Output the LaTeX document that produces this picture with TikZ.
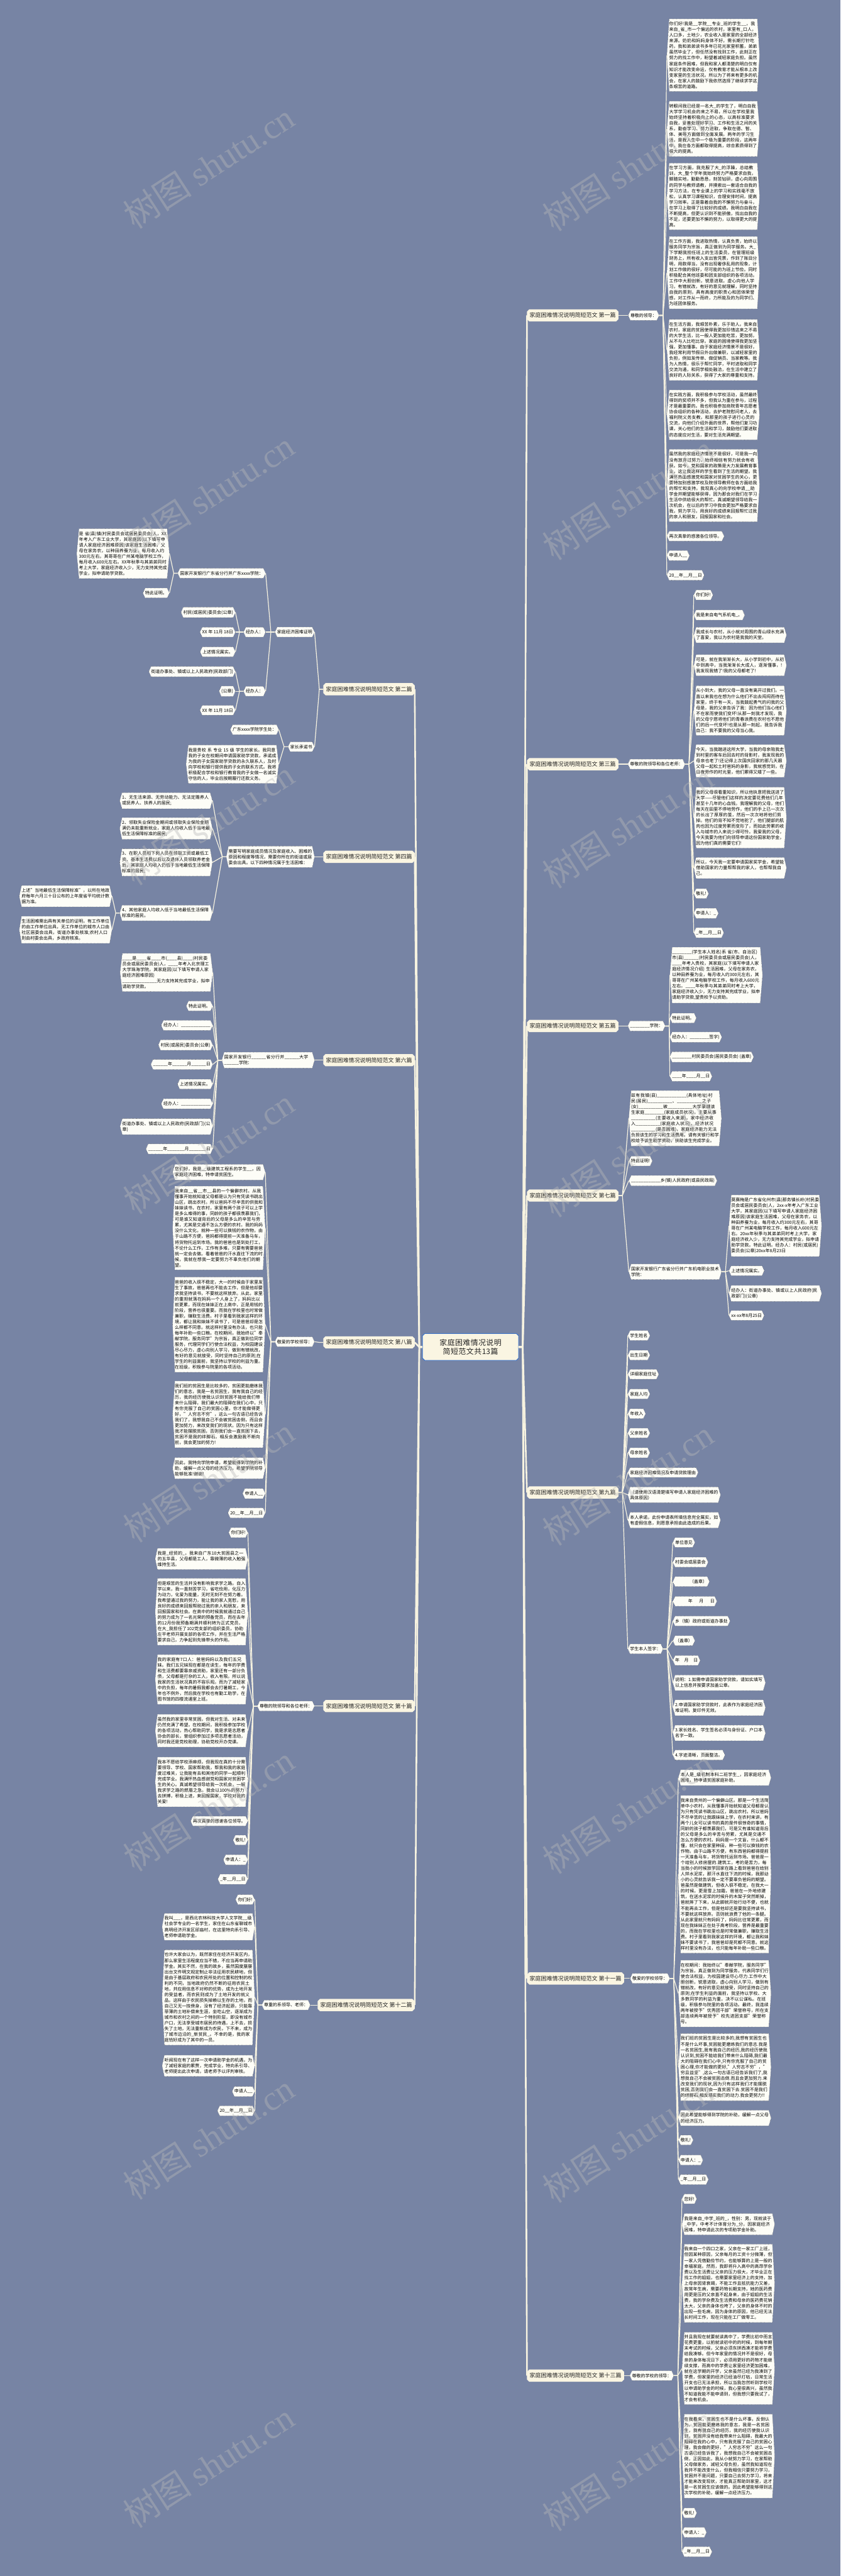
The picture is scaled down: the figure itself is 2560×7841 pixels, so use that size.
\documentclass[tikz,border=0pt]{standalone}
\usepackage{fontspec}
\setmainfont{Noto Sans CJK SC}
\newfontfamily\wmc{Noto Sans CJK SC}
\newfontfamily\wml{Liberation Serif}
\XeTeXlinebreaklocale "zh"
\XeTeXlinebreakskip=0pt plus 0.3pt
\definecolor{bgc}{RGB}{119,132,164}
\definecolor{leafc}{RGB}{253,253,247}
\definecolor{ttlc}{RGB}{250,245,226}
\definecolor{bordc}{RGB}{70,70,70}
\definecolor{ctrb}{RGB}{66,118,200}
\definecolor{linec}{RGB}{246,242,224}
\definecolor{wmcol}{RGB}{185,185,185}
\makeatletter
\pgfdeclareshape{hexa}{%
  \inheritsavedanchors[from=rectangle]%
  \inheritanchorborder[from=rectangle]%
  \inheritanchor[from=rectangle]{center}%
  \inheritanchor[from=rectangle]{north}%
  \inheritanchor[from=rectangle]{south}%
  \inheritanchor[from=rectangle]{east}%
  \inheritanchor[from=rectangle]{west}%
  \inheritanchor[from=rectangle]{north east}%
  \inheritanchor[from=rectangle]{north west}%
  \inheritanchor[from=rectangle]{south east}%
  \inheritanchor[from=rectangle]{south west}%
  \inheritanchor[from=rectangle]{base}%
  \inheritanchor[from=rectangle]{mid}%
  \backgroundpath{%
    \southwest \edef\hxa{\the\pgf@x}\edef\hya{\the\pgf@y}%
    \northeast \edef\hxb{\the\pgf@x}\edef\hyb{\the\pgf@y}%
    \pgfpathmoveto{\pgfqpoint{\hxa}{\dimexpr(\hya+\hyb)/2\relax}}%
    \pgfpathlineto{\pgfqpoint{\dimexpr\hxa+2pt\relax}{\hyb}}%
    \pgfpathlineto{\pgfqpoint{\dimexpr\hxb-2pt\relax}{\hyb}}%
    \pgfpathlineto{\pgfqpoint{\hxb}{\dimexpr(\hya+\hyb)/2\relax}}%
    \pgfpathlineto{\pgfqpoint{\dimexpr\hxb-2pt\relax}{\hya}}%
    \pgfpathlineto{\pgfqpoint{\dimexpr\hxa+2pt\relax}{\hya}}%
    \pgfpathclose
  }%
}
\pgfdeclareshape{octa}{%
  \inheritsavedanchors[from=rectangle]%
  \inheritanchorborder[from=rectangle]%
  \inheritanchor[from=rectangle]{center}%
  \inheritanchor[from=rectangle]{north}%
  \inheritanchor[from=rectangle]{south}%
  \inheritanchor[from=rectangle]{east}%
  \inheritanchor[from=rectangle]{west}%
  \inheritanchor[from=rectangle]{north east}%
  \inheritanchor[from=rectangle]{north west}%
  \inheritanchor[from=rectangle]{south east}%
  \inheritanchor[from=rectangle]{south west}%
  \inheritanchor[from=rectangle]{base}%
  \inheritanchor[from=rectangle]{mid}%
  \backgroundpath{%
    \southwest \edef\hxa{\the\pgf@x}\edef\hya{\the\pgf@y}%
    \northeast \edef\hxb{\the\pgf@x}\edef\hyb{\the\pgf@y}%
    \pgfpathmoveto{\pgfqpoint{\hxa}{\dimexpr\hya+2pt\relax}}%
    \pgfpathlineto{\pgfqpoint{\hxa}{\dimexpr\hyb-2pt\relax}}%
    \pgfpathlineto{\pgfqpoint{\dimexpr\hxa+2pt\relax}{\hyb}}%
    \pgfpathlineto{\pgfqpoint{\dimexpr\hxb-2pt\relax}{\hyb}}%
    \pgfpathlineto{\pgfqpoint{\hxb}{\dimexpr\hyb-2pt\relax}}%
    \pgfpathlineto{\pgfqpoint{\hxb}{\dimexpr\hya+2pt\relax}}%
    \pgfpathlineto{\pgfqpoint{\dimexpr\hxb-2pt\relax}{\hya}}%
    \pgfpathlineto{\pgfqpoint{\dimexpr\hxa+2pt\relax}{\hya}}%
    \pgfpathclose
  }%
}
\makeatother
\newcommand\fsz{\fontsize{3.8pt}{4.92pt}\selectfont}
\newcommand\tsz{\fontsize{4.9pt}{6pt}\selectfont}
\newcommand\csz{\fontsize{6.5pt}{8pt}\selectfont}
\newcommand\uu{\_\_\_\_}
\tikzset{
  lf/.style={shape=hexa, fill=leafc, draw=bordc, densely dotted, line width=0.3pt,
    font=\fsz, text=black, inner xsep=2pt, inner ysep=2.5pt, outer sep=0pt},
  bk/.style={lf, text width=76.3pt, align=left},
  ttl/.style={shape=octa, fill=ttlc, font=\tsz, text=black!85, inner xsep=2.3pt, inner ysep=3pt, outer sep=0pt},
  ctr/.style={shape=octa, fill=ttlc, draw=ctrb, line width=0.6pt, font=\csz, text=black!85,
    text width=72pt, align=center, inner xsep=5.7pt, inner ysep=4.6pt, outer sep=0pt},
  ln/.style={draw=linec, line width=0.65pt, solid},
  mln/.style={draw=linec, line width=1.4pt, solid},
  wm/.style={font={\fontsize{30pt}{30pt}\selectfont}, text=wmcol, opacity=0.4, rotate=33, inner sep=0pt}
}
\newcommand\RK[6][lf]{\node[#1,anchor=west] (#2) at (#4,#5) {#6};
  \draw[ln] (#3.east) -- ++(12,0) -- (#2.west);}
\newcommand\LK[6][lf]{\node[#1,anchor=east] (#2) at (#4,#5) {#6};
  \draw[ln] (#3.west) -- ++(-12,0) -- (#2.east);}
\newcommand\RTT[3]{\node[ttl,anchor=west] (#1) at (1605,#2) {家庭困难情况说明简短范文 #3};
  \draw[mln] (C.east) -- (JR) -- (#1.west);}
\newcommand\LTT[3]{\node[ttl,anchor=east] (#1) at (1263,#2) {家庭困难情况说明简短范文 #3};
  \draw[mln] (C.west) -- (JL) -- (#1.east);}
\begin{document}
\begin{tikzpicture}[x=0.01cm,y=-0.01cm]
\useasboundingbox (0,0) rectangle (2560,7841);
\fill[bgc] (0,0) rectangle (2560,7841);
\node[ctr] (C) at (1433,4100) {家庭困难情况说明简短范文共13篇};
\coordinate (JR) at (1592,4100);
\coordinate (JL) at (1277,4100);
% ---------------- right titles
\RTT{T1}{960}{第一篇}
\RTT{T3}{2326}{第三篇}
\RTT{T5}{3123}{第五篇}
\RTT{T7}{3639}{第七篇}
\RTT{T9}{4543}{第九篇}
\RTT{T11}{6022}{第十一篇}
\RTT{T13}{7231}{第十三篇}
% ---------------- left titles
\LTT{T2}{2098}{第二篇}
\LTT{T4}{2608}{第四篇}
\LTT{T6}{3227}{第六篇}
\LTT{T8}{4086}{第八篇}
\LTT{T10}{5193}{第十篇}
\LTT{T12}{6103}{第十二篇}
% ================= 第一篇
\RK{a}{T1}{1913}{960}{尊敬的领导：}
\RK[bk]{a1}{a}{2031}{168}{你们好!我是\_\_学院\_\_专业\_班的学生\_\_，我来自\_省\_市一个偏远的农村，家里有\_口人，人口多，土地少，农业收入是家里的全部经济来源。奶奶和妈妈身体不好，需长期打针吃药，我和弟弟读书多年已花光家里积蓄，弟弟虽然毕业了，但任然没有找到工作，此刻正在努力的找工作中，盼望着减轻家庭负担。虽然家庭条件困难，但我和家人都清楚的明白仅有知识才能改变命运，仅有教育才能从根本上改变家里的生活状况。所以为了将来有更多的机会，在家人的鼓励下我依然选择了继续求学这条艰苦的道路。}
\RK[bk]{a2}{a}{2031}{392}{转眼间我已经是一名大\_的学生了，明白自我大学学习机会的来之不易，所以在学校里我始终坚持着积极向上的心态，以高标准要求自我，妥善处理好学习、工作和生活之间的关系，勤奋学习、努力进取，争取在德、智、体、美等方面做到全面发展。两年的学习生活，是我人生中一个极为重要的阶段，这两年中，我在各方面都取得提高，综合素质得到了很大的提高。}
\RK[bk]{a3}{a}{2031}{598}{在学习方面，我克服了大\_的浮躁，总结教训，大\_整个学年我始终努力严格要求自我，脚踏实地，勤勤恳恳，刻苦钻研，虚心向周围的同学与教师请教，并摸索出一套适合自我的学习方法，在专业课上的学习和实践毫不放松，认真学习课程知识，合理安排时间，提高学习效率。正是靠着自我的不懈努力与奋斗，在学习上取得了比较好的成绩。我明白自我在不断提高，但更认识到不能骄傲，找出自我的不足，还要更加不懈的努力，以取得更大的提高。}
\RK[bk]{a4}{a}{2031}{830}{在工作方面，我进取热情，认真负责，始终以服务同学为宗旨，真正做到为同学服务。大\_下学期我担任班上的生活委员，在管理班级财务上，所有收入支出皆凭票，作到了账目分明，用款得当，没有出现奢侈乱用的现象，计划工作做的很好，尽可能的为班上节俭。同时积极配合其他班委和团支部组织的各项活动。工作中大胆创新，锐意进取，虚心向他人学习，有错就改，有好的意见就理解，同时坚持自我的原则，具有高度的职责心和团体荣誉感，对工作从一而终，力所能及的为同学们、为班团体服务。}
\RK[bk]{a5}{a}{2031}{1065}{在生活方面，我艰苦朴素，乐于助人。我来自农村，家庭的贫困使得我更加珍惜这来之不易的大学生活，比一般人更加能吃苦，更加努，从不与人比吃比穿。家庭的困境使得我更加坚强，更加懂事。由于家庭经济情景不是很好，我经常利用节假日外出做兼职，以减轻家里的负担，例如发传单、做促销员、当家教等。我为人热情，很乐于帮忙同学，平时进取和同学交流沟通，和同学相处融洽，在生活中建立了良好的人际关系，获得了大家的尊重和支持。}
\RK[bk]{a6}{a}{2031}{1263}{在实践方面，我积极参与学校活动，虽然最终得到的奖项并不多，但我认为重在参与，过程才是最重要的。我也积极参加商院青年志愿者协会组织的各种活动，去护老院慰问老人，去福利院义务支教，和那里的孩子进行心灵的交流，向他们介绍外面的世界，帮他们复习功课，关心他们的生活和学习，鼓励他们要进取的态度应对生活，要对生活充满期望。}
\RK[bk]{a7}{a}{2031}{1478}{虽然我的家庭经济情景不是很好，可是我一向没有放弃过努力，始终相信有努力就会有收获。如今，党和国家的政策是大力发展教育事业，这让我这样的学生看到了生活的期望。我满怀热血感激党和国家对贫困学生的关心，更要特加别感激学校及院领导教师在各方面给我的帮忙和支持。我现真心的向学校申请\_\_助学金并期望能够获得，因为那会对我们在学习生活中供给很大的帮忙。真诚期望领导给我一次机会，在以后的学习中我会更加严格要求自我，努力学习，用良好的成绩来回报帮忙过我的亲人和朋友，回报国家和社会。}
\RK{a8}{a}{2031}{1632}{再次真挚的感激各位领导。}
\RK{a9}{a}{2031}{1691}{申请人\_\_}
\RK{a10}{a}{2031}{1751}{20\_\_年\_\_月\_\_日}
% ================= 第三篇
\RK{b}{T3}{1912}{2326}{尊敬的院领导和各位老师：}
\RK{b1}{b}{2113}{1811}{你们好!}
\RK{b2}{b}{2113}{1872}{我是来自电气系机电\_。}
\RK[bk]{b3}{b}{2113}{1933}{我成长与农村，从小就对周围的青山绿水充满了喜爱，我以为农村是我我的天堂。}
\RK[bk]{b4}{b}{2113}{2025}{可是，就在我渐渐长大，从小学到初中，从初中到高中，当我渐渐长大成人，逐渐懂事，!我发现我错了!我的父母都老了!}
\RK[bk]{b5}{b}{2113}{2163}{从小到大，我的父母一直没有离开过我们。一直以来我也在想为什么他们不出去闯闯而待在家里，终于有一天，当我鼓起勇气的问我的父母是，我的父亲告诉了我：因为他们当心他们不在家而使我们变坏!从那一刻我才发现，我的父母宁愿将他们的青春浪费在农村也不愿他们的后一代变坏!也是从那一刻起，我告诉我自己：我不要我的父母当心我。}
\RK[bk]{b6}{b}{2113}{2316}{今天，当我踏进这所大学，当我的母亲陪我走到村里的客车后回去时的背影时，我发现我的母亲也老了!还记得上次国庆回家的那几天跟父母一起松土时爸妈的身影，我就感觉到，在日夜劳作的时光里，他们累得又矮了一些。}
\RK[bk]{b7}{b}{2113}{2489}{我的父母很看重知识，所以他执意把我送进了大学——尽管他们这样的决定要花费他们几年甚至十几年的心血钱。我理解我的父母，他们每天在田里不停地劳作，他们的手上已一次次的长出了厚厚的茧，然后一次次地将他们剪掉。他们的背不知不觉地驼了，他们腿部的肌肉也因为过度劳累而变形了，而如此劳累的收入与城市的人来说少得可怜。我爱我的父母，今天我要为他们向领导申请这份国家助学金，因为他们真的需要它们!}
\RK[bk]{b8}{b}{2113}{2642}{所以，今天我一定要申请国家奖学金，希望能借助国家的力量帮帮我的家人，也帮帮我自己。}
\RK{b9}{b}{2113}{2720}{敬礼!}
\RK{b10}{b}{2113}{2780}{申请人：\_}
\RK{b11}{b}{2113}{2839}{\_年\_\_月\_\_日}
% ================= 第五篇
\RK{c}{T5}{1912}{3123}{\uu\uu{}学院：}
\RK[bk]{c1}{c}{2040}{2968}{\uu\uu(学生本人姓名)系 省(市、自治区) 市(县)\uu\_\_(村民委员会或居民委员会)人，\uu{}年考入贵校，其家庭(以下填写申请人家庭经济情况介绍) 生活困难，父母在家务农，以种田养蚕为业，每月收入约300元左右，其哥哥在广州某电脑学校工作，每月收入600元左右。\uu{}年秋季与其弟弟同时考上大学，家庭经济收入少，无力支持其完成学业，拟申请助学贷款,望贵校予以资助。}
\RK{c2}{c}{2040}{3099}{特此证明。}
\RK{c3}{c}{2040}{3157}{经办人：\uu\uu{}签字)}
\RK{c4}{c}{2040}{3217}{\uu\uu{}村民委员会(居民委员会) (盖章)}
\RK{c5}{c}{2040}{3276}{\uu{}年\uu{}月\_\_日}
% ================= 第七篇
\RK[bk]{d1}{T7}{1915}{3404}{兹有我镇(县)\uu\uu\uu(具体地址)村民(居民)\uu\uu\_\_、\uu\uu\_\_之子(女)\uu\uu\_\_被\uu\uu\_\_大学录龋该生家庭\uu\uu(家庭成员状况)，主要从事\uu\uu\_\_(主要收入来源)，家中经济收入\uu\uu\_\_(家庭收入状况)，经济状况\uu\uu\_\_(是否困难)，家庭经济能力无法负担该生的学习和生活费用。请有关银行和学校给予该生助学资助，扶助该生完成学业。}
\RK{d2}{T7}{1915}{3534}{特此证明!}
\RK{d3}{T7}{1915}{3594}{\uu\uu\uu{}乡(镇)人民政府(或县民政局)}
\RK[bk]{d4}{T7}{1915}{3871}{国家开发银行广东省分行并广东机电职业技术学院：}
\RK[bk]{d41}{d4}{2220}{3731}{莫赛梅是广东省化州市(县)那务镇长岭(村民委员会或居民委员会)人，2xx-x年考入广东工业大学，其家庭因(以下填写申请人家庭经济困难原因)该家庭生活困难，父母在家务农，以种田养蚕为业，每月收入约300元左右，其哥哥在广州某电脑学校工作，每月收入600元左右。20xx年秋季与其弟弟同时考上大学，家庭经济收入少，无力支持其完成学业，拟申请助学贷款。特此证明。经办人：村民(或居民)委员会(公章)20xx年8月23日}
\RK{d42}{d4}{2220}{3868}{上述情况属实。}
\RK[bk]{d43}{d4}{2220}{3937}{经办人：街道办事处、镇或以上人民政府(民政部门)(公章)}
\RK{d44}{d4}{2220}{4004}{xx-xx年8月25日}
% ================= 第九篇
\RK{e1}{T9}{1912}{4065}{学生姓名}
\RK{e2}{T9}{1912}{4125}{出生日期}
\RK{e3}{T9}{1912}{4183}{详细家庭住址}
\RK{e4}{T9}{1912}{4243}{家庭人均}
\RK{e5}{T9}{1912}{4303}{年收入}
\RK{e6}{T9}{1912}{4362}{父亲姓名}
\RK{e7}{T9}{1912}{4422}{母亲姓名}
\RK{e8}{T9}{1912}{4482}{家庭经济困难情况及申请贷款理由}
\RK[bk]{e9}{T9}{1912}{4550}{（请使用汉语清楚填写申请人家庭经济困难的具体原因）}
\RK[bk]{e10}{T9}{1912}{4627}{本人承诺，此份申请表所填信息完全属实，如有虚假信息，则愿意承担由此造成的后果。}
\RK{e11}{T9}{1912}{5019}{学生本人签字：}
\RK{f1}{e11}{2049}{4695}{单位意见}
\RK{f2}{e11}{2049}{4755}{村委会或居委会}
\RK{f3}{e11}{2049}{4814}{\hspace{3.3em}（盖章）}
\RK{f4}{e11}{2049}{4874}{\hspace{3em}年\hspace{1.5em}月\hspace{1.5em}日}
\RK{f5}{e11}{2049}{4934}{乡（镇）政府或街道办事处}
\RK{f6}{e11}{2049}{4994}{（盖章）}
\RK{f7}{e11}{2049}{5054}{年\hspace{1.1em}月\hspace{1.1em}日}
\RK[bk]{f8}{e11}{2049}{5122}{说明：1.如需申请国家助学贷款，请如实填写以上信息并按要求加盖公章。}
\RK[bk]{f9}{e11}{2049}{5198}{2.申请国家助学贷款时，此表作为家庭经济困难证明，复印件无效。}
\RK[bk]{f10}{e11}{2049}{5275}{3.家长姓名、学生签名必须与身份证、户口本名字一致。}
\RK{f11}{e11}{2049}{5342}{4.字迹清晰，页面整洁。}
% ================= 第十一篇
\RK{g}{T11}{1919}{6022}{敬爱的学校领导：}
\RK[bk]{g1}{g}{2066}{5411}{本人是\_级机制本科二班学生\_，因家庭经济困难，特申请贫困家庭补助。}
\RK[bk]{g2}{g}{2066}{5705}{我来自贵州的一个偏僻山区。那是一个生活简单中小农村，从我懂事开始就知道父母都是认为只有凭读书跳出山区，跳出农村。所以爸妈不尽辛苦的让我跟妹妹上学，在农村来讲，有两个儿女可以读书的真的是件很惊奇的事情，同龄的孩子都羡慕我们，可是又有谁知道背后的父母是多么的辛苦与劳累，尤其是交通不怎么方便的农村。妈妈是一个文盲，什么都不懂，就只会在家里种田，种一些可以换钱的农作物。由于山路不方便，有东西爸妈都得提前一天准备马车，将货物托运到市场。爸爸是一个给别人修房屋的.建筑工，考的是苦力，每当我小的时候放学回家在路上看到爸爸在给别人拌水泥浆，那汗水直往下流的时候，我那幼小的心灵就告诉我一定不要辜负爸妈的期望。爸虽然是做建筑，但收入很不稳定。在我大一的时候，更是雪上加霜，爸爸在一外地修建筑，在送水泥浆的时候升的木架子突然断掉，爸就摔了下来，从此脚就开始行动不便，也就不能再去工作，但是他却还是要我坚持读书，不要就这样放弃。否则就浪费了他的一条腿。从此家里就只有妈妈了，妈妈比往常更累，而现在我妹妹正在处于高考阶段，营养是最重要的，而我在学校里也是时常做兼职，赚取生活费。村子里看到我家这样的环境，都让我和妹妹不要读书了，我爸爸却是死都不同意。就这样村里没有办法，也只能每年补助一些口粮。}
\RK[bk]{g3}{g}{2066}{6068}{在校期间：我始终以"奉献学院，服务同学"为宗旨，真正做到为同学服务，代表同学们行使合法权益，为校园建设尽心尽力.工作中大胆创新，锐意进取，虚心向别人学习，做到有错就改，有好的意见就接受，同时坚持自己的原则;在学生利益的面前，我坚持以学校、大多数同学的利益为重，决不以公谋私。在班级，积极参与院里的各项活动。最终，我连续两年被授予"优秀团干部"荣誉称号，所在支部连续两年被授予"校先进团支部"荣誉称号。}
\RK[bk]{g4}{g}{2066}{6292}{我们班的贫困生是比较多的,我想有贫困生也不是什么坏事,贫困能更磨练我们的意志.我是一名贫困生,我有我自己的经历,我的经历使我认识到,贫困不能给我们带来什么阻碍,我们最大的阻碍在我们心中,只有你克服了自己的贫困心理,你才能做的更好,"人穷志不穷"，"穷且益坚",这么一句古语已经告诉我们了,我想我自己不会被贫困击倒.而且会更加努力.来改变我们的现状,因为只有这样我们才能摆脱贫困,否则我们会一直贫困下去.贫困不是我们的绊脚石,相反塌实我们的动力.我会更努力!!}
\RK[bk]{g5}{g}{2066}{6447}{因此希望能够得到学院的补助，缓解一点父母的经济压力。}
\RK{g6}{g}{2066}{6514}{敬礼!}
\RK{g7}{g}{2066}{6575}{申请人：\_}
\RK{g8}{g}{2066}{6634}{\_年\_\_月\_\_日}
% ================= 第十三篇
\RK{h}{T13}{1918}{7231}{尊敬的学校的领导：}
\RK{h1}{h}{2077}{6693}{您好!}
\RK[bk]{h2}{h}{2077}{6770}{我是来自\_中学\_班的\_，性别：男，现就读于\_中学，中考不计体育分为\_分，因家庭经济困难，特申请此次的专项助学金补助。}
\RK[bk]{h3}{h}{2077}{6950}{我来自一个四口之家，父亲在一家工厂上班，但因某种原因，父亲每月的工资十分微薄，但一家人凭借勤俭节约，也能够算的上是一般的幸福家庭。然而，我即将升入高中的高昂学杂费以及生活费让父亲的压力很大，才毕业正在找工作的姐姐，也需要家里经济上的支持，加上母亲因肾衰竭，不能工作且抵抗能力又差，故常年生病，需要药物长期支持，她的医药费用更是压的父亲直不起身来，由于姐姐的生活费，我的学杂费及生活费和母亲的医药费花销太大，父亲的身体也垮了，父亲的身体不时的出现一些毛病，因为身体的原因，他已经无法长时间工作，现在只能在工厂做零工。}
\RK[bk]{h4}{h}{2077}{7209}{并且我现在就要就读高中了，学费比初中而言花费更重，以前就读初中的的时候，到每年期末考试的时候，父亲必须东拼西凑才能将学费给我凑够。但今年家里的情况并不是很好，母亲的身体每况日下，必须用更好的药物才能继续支撑，而高中的学费让家里经济更加困难，就在这学期的开学，父亲虽然已经为我凑到了学费，但家里的经济已经油尽灯枯，日常生活开支也已无法承担，所以当我忽然听到学校可以申请助学金的时候，我心里很高兴，虽然我不知道我能不能申请到，但我想只要我试了，才会有机会。}
\RK[bk]{h5}{h}{2077}{7476}{在我看来，贫困生也不是什么坏事，反倒认为，贫困能更磨练我的意志，我是一名贫困生，我有我自己的经历，我的经历使我认识到，贫困并没有给我带来什么阻碍，我最大的阻碍在我的心中，只有我克服了自己的贫困心理，我会做的更好，"人穷志不穷"这么一句古语已经告诉我了，我想我自己不会被贫困击倒，正因如此，我从小就努力学习，在家帮助父母做家务，减轻父母负担，虽然我知道现在我并不能改变什么，但我相信只要努力学习，贫困并不是问题，只要自己去努力学习，将来才能来改变现状，才能真正帮助到家里，这才是一名贫困生应该做的。因此希望能够得到这次学校的补助，缓解一点经济压力。}
\RK{h6}{h}{2077}{7649}{敬礼!}
\RK{h7}{h}{2077}{7708}{申请人：\_}
\RK{h8}{h}{2077}{7767}{\_年\_\_月\_\_日}
% ================= 第二篇
\LK{i}{T2}{958}{1924}{家庭经济困难证明}
\LK{i1}{i}{809}{1745}{国家开发银行广东省分行并广东xxxx学院：}
\LK[bk]{i11}{i1}{516}{1685}{是 省(县)镇(村民委员会或居民委员会)人，XX年考入广东工业大学，其家庭因(以下填写申请人家庭经济困难原因)该家庭生活困难，父母在家务农，以种田养蚕为业，每月收入约300元左右，其哥哥在广州某电脑学校工作，每月收入600元左右。XX年秋季与其弟弟同时考上大学，家庭经济收入少，无力支持其完成学业，拟申请助学贷款。}
\LK{i12}{i1}{516}{1805}{特此证明。}
\LK{i2}{i}{809}{1924}{经办人：}
\LK{i21}{i2}{717}{1864}{村民(或居民)委员会(公章)}
\LK{i22}{i2}{717}{1924}{XX 年 11月 18日}
\LK{i23}{i2}{717}{1984}{上述情况属实。}
\LK{i3}{i}{809}{2104}{经办人：}
\LK{i31}{i3}{717}{2044}{街道办事处、镇或以上人民政府(民政部门)}
\LK{i32}{i3}{717}{2104}{(公章)}
\LK{i33}{i3}{717}{2162}{XX 年 11月 18日}
\LK{j}{T2}{958}{2273}{家长承诺书}
\LK{j1}{j}{849}{2221}{广东xxxx学院学生处：}
\LK[bk]{j2}{j}{849}{2326}{我是贵校 系 专业 15 级 学生的家长。我同意我的子女在校期间申请国家助学贷款，承诺成为我的子女国家助学贷款的永久联系人，及时向学校和银行提供我的子女的联系方式。我将积极配合学校和银行教育我的子女做一名诚实守信的人，毕业后按期履行还款义务。}
% ================= 第四篇
\LK[bk,text width=72.5pt]{k}{T4}{958}{2608}{需要写明家庭成员情况及家庭收入、困难的原因和程度等情况，需要你所在的街道或居委会出具。以下四种情况属于生活困难：}
\LK[bk]{k1}{k}{647}{2437}{1、无生活来源、无劳动能力、无法定赡养人或抚养人、扶养人的居民;}
\LK[bk]{k2}{k}{647}{2522}{2、领取失业保险金期间或领取失业保险金期满仍未能重新就业，家庭人均收入低于当地最低生活保障标准的居民;}
\LK[bk]{k3}{k}{647}{2625}{3、在职人员和下岗人员在领取工资或最低工资、基本生活费以后以及退休人员领取养老金后，其家庭人均收入仍低于当地最低生活保障标准的居民;}
\LK[bk]{k4}{k}{647}{2779}{4、其他家庭人均收入低于当地最低生活保障标准的居民。}
\LK[bk]{k41}{k4}{341}{2728}{上述"当地最低生活保障标准"，以所在地政府每年六月三十日公布的上年度省平均统计数据为准。}
\LK[bk]{k42}{k4}{341}{2830}{生活困难需出具有关单位的证明，有工作单位的由工作单位出具，无工作单位的城市人口由社区居委会出具，街道办事处核准;农村人口则由村委会出具，乡政府核准。}
% ================= 第六篇
\LK[bk]{m}{T6}{958}{3227}{国家开发银行\_\_\_\_\_\_省分行并\_\_\_\_\_\_大学\_\_\_\_\_\_学院：}
\LK[bk]{m1}{m}{648}{2960}{\uu{}是\uu{}省\uu{}市(\uu{}县)\uu(村民委员会或居民委员会)人，\uu{}年考入北京理工大学珠海学院，其家庭因(以下填写申请人家庭经济困难原因)\\\uu\uu\uu\_\_无力支持其完成学业，拟申请助学贷款。}
\LK{m2}{m}{648}{3062}{特此证明。}
\LK{m3}{m}{648}{3121}{经办人：\uu\uu\uu}
\LK{m4}{m}{648}{3181}{村民(或居民)委员会(公章)}
\LK{m5}{m}{648}{3240}{\uu\_\_年\uu\_\_月\uu\_\_日}
\LK{m6}{m}{648}{3300}{上述情况属实。}
\LK{m7}{m}{648}{3360}{经办人：\uu\uu\uu}
\LK[bk]{m8}{m}{648}{3429}{街道办事处、镇或以上人民政府(民政部门)(公章)}
\LK{m9}{m}{648}{3497}{\uu\_\_年\uu\_\_\_月\uu\_\_\_日}
% ================= 第八篇
\LK{n}{T8}{958}{4084}{敬爱的学校领导：}
\LK[bk]{n1}{n}{808}{3568}{您们好，我是\_\_级建筑工程系的学生\_\_，因家庭经济困难，特申请贫困生。}
\LK[bk]{n2}{n}{808}{3738}{我来自\_\_省\_\_市\_\_县的一个偏僻农村。从我懂事开始就知道父母都是认为只有凭读书跳出山区，跳出农村。所以爸妈不尽辛苦的供我和妹妹读书，在农村，家里有两个孩子可以上学是多么难得的事，同龄的孩子都很羡慕我们，可是谁又知道背后的父母是多么的辛苦与劳累，尤其是交通不怎么方便的农村。我的妈妈没什么文化，就种一些可以换钱的农作物，由于山路不方便，爸妈都得提前一天准备马车，将货物托运到市场。我的爸爸也是到处打工，不论什么工作，工作有多难，只要有需要爸爸就一定会去做。看着爸爸的汗水直往下流的时候，我就在想我一定要努力不辜负他们的期望。}
\LK[bk]{n3}{n}{808}{4032}{爸爸的收入很不稳定，大一的时候由于家里发生了事故，爸爸再也不能去工作，但是他却要求我坚持读书，不要就这样放弃。从此，家里的重担就落在妈妈一个人身上了，妈妈比以前更累，而现在妹妹正在上高中，正是用钱的阶段，营养也很重要。而我在学校里也时常做兼职，赚取生活费。村子里看到我家这样的环境，都让我和妹妹不读书了，可是爸爸却是怎么样都不同意。就这样村里没有办法，也只能每年补助一些口粮。在校期间，我始终以"奉献学院，服务同学"为宗旨，真正做到位同学服务，代理同学们行使合法权益，为校园建设尽心尽力，虚心向别人学习，做到有错就改，有好的意见就接受，同时坚持自己的原则;在学生的利益面前，我坚持以学校的利益为重。在班级，积极参与院里的各项活动。}
\LK[bk]{n4}{n}{808}{4305}{我们班的贫困生是比较多的，贫困更能磨练我们的意志，我是一名贫困生，我有我自己的经历，我的经历使我认识到贫困不能给我们带来什么阻碍，我们最大的阻碍在我们心中，只有你克服了自己的贫困心里，你才能做得更好，"人穷志不穷"，这么一句古语已经告诉我们了，我想我自己不会被贫困击倒，而且会更加努力，来改变我们的现状。因为只有这样我才能摆脱贫困，否则我们会一直贫困下去，贫困不是我的绊脚石，相反会激励我不断向前，我会更加的努力!}
\LK[bk]{n5}{n}{808}{4469}{因此，我特向学院申请，希望能得到学院的补助，缓解一点父母的经济压力。希望学院领导能够批准!谢谢!}
\LK{n6}{n}{808}{4546}{申请人\_\_}
\LK{n7}{n}{808}{4605}{20\_\_年\_\_月\_\_日}
% ================= 第十篇
\LK{p}{T10}{958}{5193}{尊敬的院领导和各位老师：}
\LK{p1}{p}{755}{4665}{你们好!}
\LK[bk]{p2}{p}{755}{4745}{我是\_经贸的\_，我来自广东10大贫困县之一的五华县，父母都是工人，靠微薄的收入勉强维持生活。}
\LK[bk]{p3}{p}{755}{4906}{但是艰苦的生活并没有影响我求学之路。自入学以来，我一直刻苦学习，省吃俭用，化压力为动力，化爱为能量，无时无刻不在努力着。我希望通过我的努力，能让我的家人宽慰，用良好的成绩来回报帮助过我的亲人和朋友，来回报国家和社会。在高中的时候我就通过自己的努力成为了一名光荣的预备党员，而在去年的12月份我预备期满并顺利转为正式党员，在大\_我担任了102党支部的组织委员，协助左平老师开展支部的各项工作，并在生活严格要求自己，力争起到先锋带头的作用。}
\LK[bk]{p4}{p}{755}{5112}{我的家庭有7口人：爸爸妈妈以及我们五兄妹。我们五兄妹现在都是在读生，每年的学费和生活费都要靠亲戚资助，家里还有一部分负债，父母都是打杂的工人，收入有限。所以说我家的生活状况真的不容乐观。而为了减轻家中的负担，每年的暑假我都会去打暑期工，今年也不例外，然后我在学校也有勤工助学，在图书馆的四楼流通室上班。}
\LK[bk]{p5}{p}{755}{5268}{虽然我的家里非常贫困，但我对生活、对未来仍然充满了希望。在校期间，我积极参加学校的各项活动，热心帮助同学，我是求是志愿者协会的部长，曾组织参加过多项志愿者活动，同时我还是党校助理，协助党校开办党课。}
\LK[bk]{p6}{p}{755}{5424}{我本不愿给学校添麻烦，但我现在真的十分需要领导、学校、国家帮助我，帮我和我的家庭度过难关，让我能有去和其他的同学一起顺利完成学业。我满怀热血感谢党和国家对贫困学生的关心。真诚希望领导给我一次机会，一解我求学之路的燃眉之急。我会以100\%的努力去拼搏，积极上进，来回报国家，学校对我的关爱!}
\LK{p7}{p}{755}{5543}{再次真挚的感谢各位领导。}
\LK{p8}{p}{755}{5601}{敬礼!}
\LK{p9}{p}{755}{5661}{申请人：\_}
\LK{p10}{p}{755}{5720}{\_年\_\_月\_\_日}
% ================= 第十二篇
\LK{q}{T12}{945}{6103}{尊重的系领导、老师：}
\LK{q1}{q}{776}{5782}{你们好!}
\LK[bk]{q2}{q}{776}{5865}{我叫\_\_\_，是西北农林科技大学人文学院\_\_级社会学专业的一名学生，家住在山东省聊城市高明经济开发区邱庙村，在这里特向系引导、老师申请助学金。}
\LK[bk]{q3}{q}{776}{6080}{也许大家会以为，既然家住在经济开发区内，那么家里生活程度应当不错，不应当再申请助学金。其实不然，在我的故乡，虽然国度屡屡出台文件明文规定制止非法征用农民耕地，但是由于基层政府和农民所处的位置和控制的权利的不同，当地政府仍然不断的征用农民土地，并应用信息不对称的优势，成为土地开发的受益者，而农民则成为了土地开发的就义品。这样由于农民损失掉赖以生存的土地，而自己又无一技傍身，没有了经济起源，只能靠菲薄的土地补偿来生涯，坐吃山空，逐渐成为城市和农村之间的一个特别阶层，即没有城市户口，无法享受城市居民的待遇，上不去，损失了土地，无法重新成为农民，下不来，成为了城市边沿的\_新贫民\_。不幸的是，我的家庭恰好成为了其中的一员。}
\LK[bk]{q4}{q}{776}{6288}{听闻现在有了这样一次申请助学金的机遇，为了减轻家庭的累赘，完成学业，特向系引导、老师提出此次申请，请老师予以评判审核。}
\LK{q5}{q}{776}{6366}{申请人\_\_}
\LK{q6}{q}{776}{6425}{20\_\_年\_\_月\_\_日}
% ================= watermarks
\foreach \k in {0,...,7}{
  \node[wm] (wl\k) at (636,505+1000*\k) {{\wmc 树图} {\wml shutu.cn}};
  \node[wm] (wr\k) at (1912,514+1000*\k) {{\wmc 树图} {\wml shutu.cn}};
}
\end{tikzpicture}
\end{document}
